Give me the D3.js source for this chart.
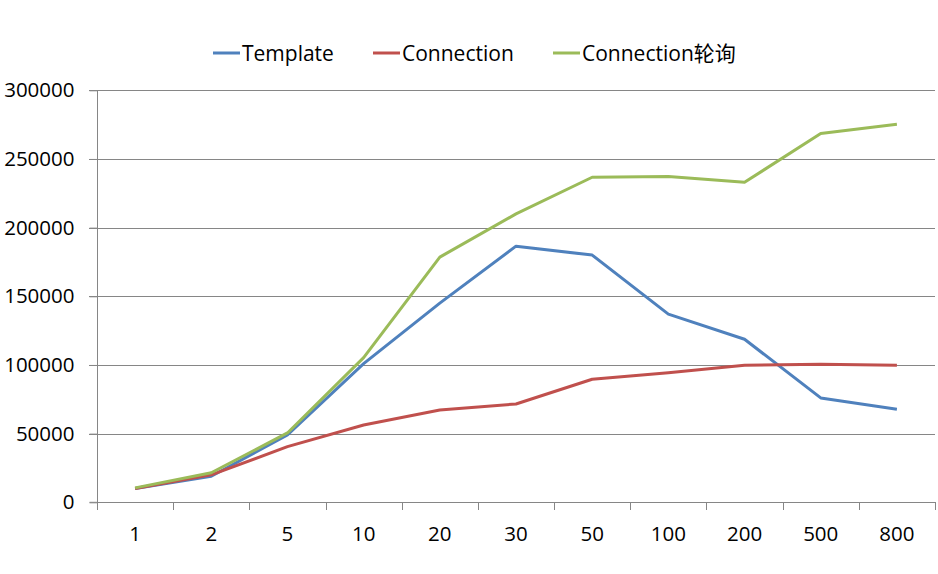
<!DOCTYPE html>
<html><head><meta charset="utf-8">
<script src="https://cdn.jsdelivr.net/npm/d3@7"></script>
<style>body{margin:0;background:#fff}svg{display:block;font-family:"Open Sans","Noto Sans CJK SC",sans-serif}</style>
</head><body><svg id="c" width="938" height="574"></svg>
<script>
const categories = ["1","2","5","10","20","30","50","100","200","500","800"];
const template = [10000,19000,49000,101000,145000,186500,180000,137000,118700,76000,67700];
const connection = [10000,20000,40500,56300,67200,71600,89600,94400,99800,100500,99800];
const connectionPoll = [10500,21500,50500,105300,178500,210000,236700,237300,233000,268500,275300];
const yTicks = [0,50000,100000,150000,200000,250000,300000];
const seriesNames = ["Template","Connection","Connection轮询"];
const colors = ["#4F81BD","#C0504D","#9BBB59"];
const seriesData = [template, connection, connectionPoll];

(function(){
const svg = d3.select("#c");
const pl = 97, pr = 935, pt = 90.3, pb = 502.3;
const x = d3.scaleBand().domain(categories).range([pl, pr]);
const y = d3.scaleLinear().domain([0,300000]).range([pb, pt]);
const grid = "#868686";
const fs = 20.5;

svg.append("g").selectAll("line").data(yTicks.filter(d=>d>0)).join("line")
  .attr("x1", pl-8).attr("x2", pr).attr("y1", d=>Math.round(y(d))+0.5).attr("y2", d=>Math.round(y(d))+0.5)
  .attr("stroke", grid).attr("stroke-width",1);

const yAxis = d3.axisLeft(y).tickValues(yTicks).tickSize(8).tickPadding(15).tickFormat(d=>String(d));
const gy = svg.append("g").attr("transform",`translate(${pl+0.5},0)`).call(yAxis);
gy.select(".domain").attr("stroke", grid).attr("d", `M-8,${pb}H0V${pt}`);
gy.selectAll(".tick line").attr("stroke", grid);
gy.selectAll(".tick text").attr("font-size",fs).attr("fill","#000").attr("font-family",'"Open Sans",sans-serif');

const xAxis = d3.axisBottom(x).tickSize(0).tickPadding(0);
const gx = svg.append("g").attr("transform",`translate(0,${Math.round(pb)+0.5})`).call(xAxis);
gx.select(".domain").attr("stroke", grid).attr("d", `M${pl},0H${pr}`);
gx.selectAll(".tick line").remove();
gx.selectAll(".tick text").attr("font-size",fs).attr("fill","#000").attr("dy","0").attr("y",38).attr("font-family",'"Open Sans",sans-serif');
const bounds = categories.map(c=>x(c)).concat([pr]);
svg.append("g").selectAll("line").data(bounds).join("line")
  .attr("x1", d=>Math.round(d)+0.5).attr("x2", d=>Math.round(d)+0.5)
  .attr("y1", Math.round(pb)).attr("y2", Math.round(pb)+8)
  .attr("stroke", grid);

const line = d3.line().x((d,i)=>x(categories[i])+x.bandwidth()/2).y(d=>y(d));
svg.append("g").selectAll("path").data(seriesData).join("path")
  .attr("d", line).attr("fill","none").attr("stroke",(d,i)=>colors[i])
  .attr("stroke-width",3).attr("stroke-linejoin","round");

const legX = [213, 373, 553];
const lg = svg.append("g").selectAll("g").data(seriesNames).join("g")
  .attr("transform",(d,i)=>`translate(${legX[i]},53)`);
lg.append("line").attr("x1",0).attr("x2",27).attr("y1",0).attr("y2",0)
  .attr("stroke",(d,i)=>colors[i]).attr("stroke-width",3);
lg.append("text").attr("x",29).attr("y",7.5).attr("font-size",21).attr("fill","#000").text(d=>d);
})();
</script></body></html>
